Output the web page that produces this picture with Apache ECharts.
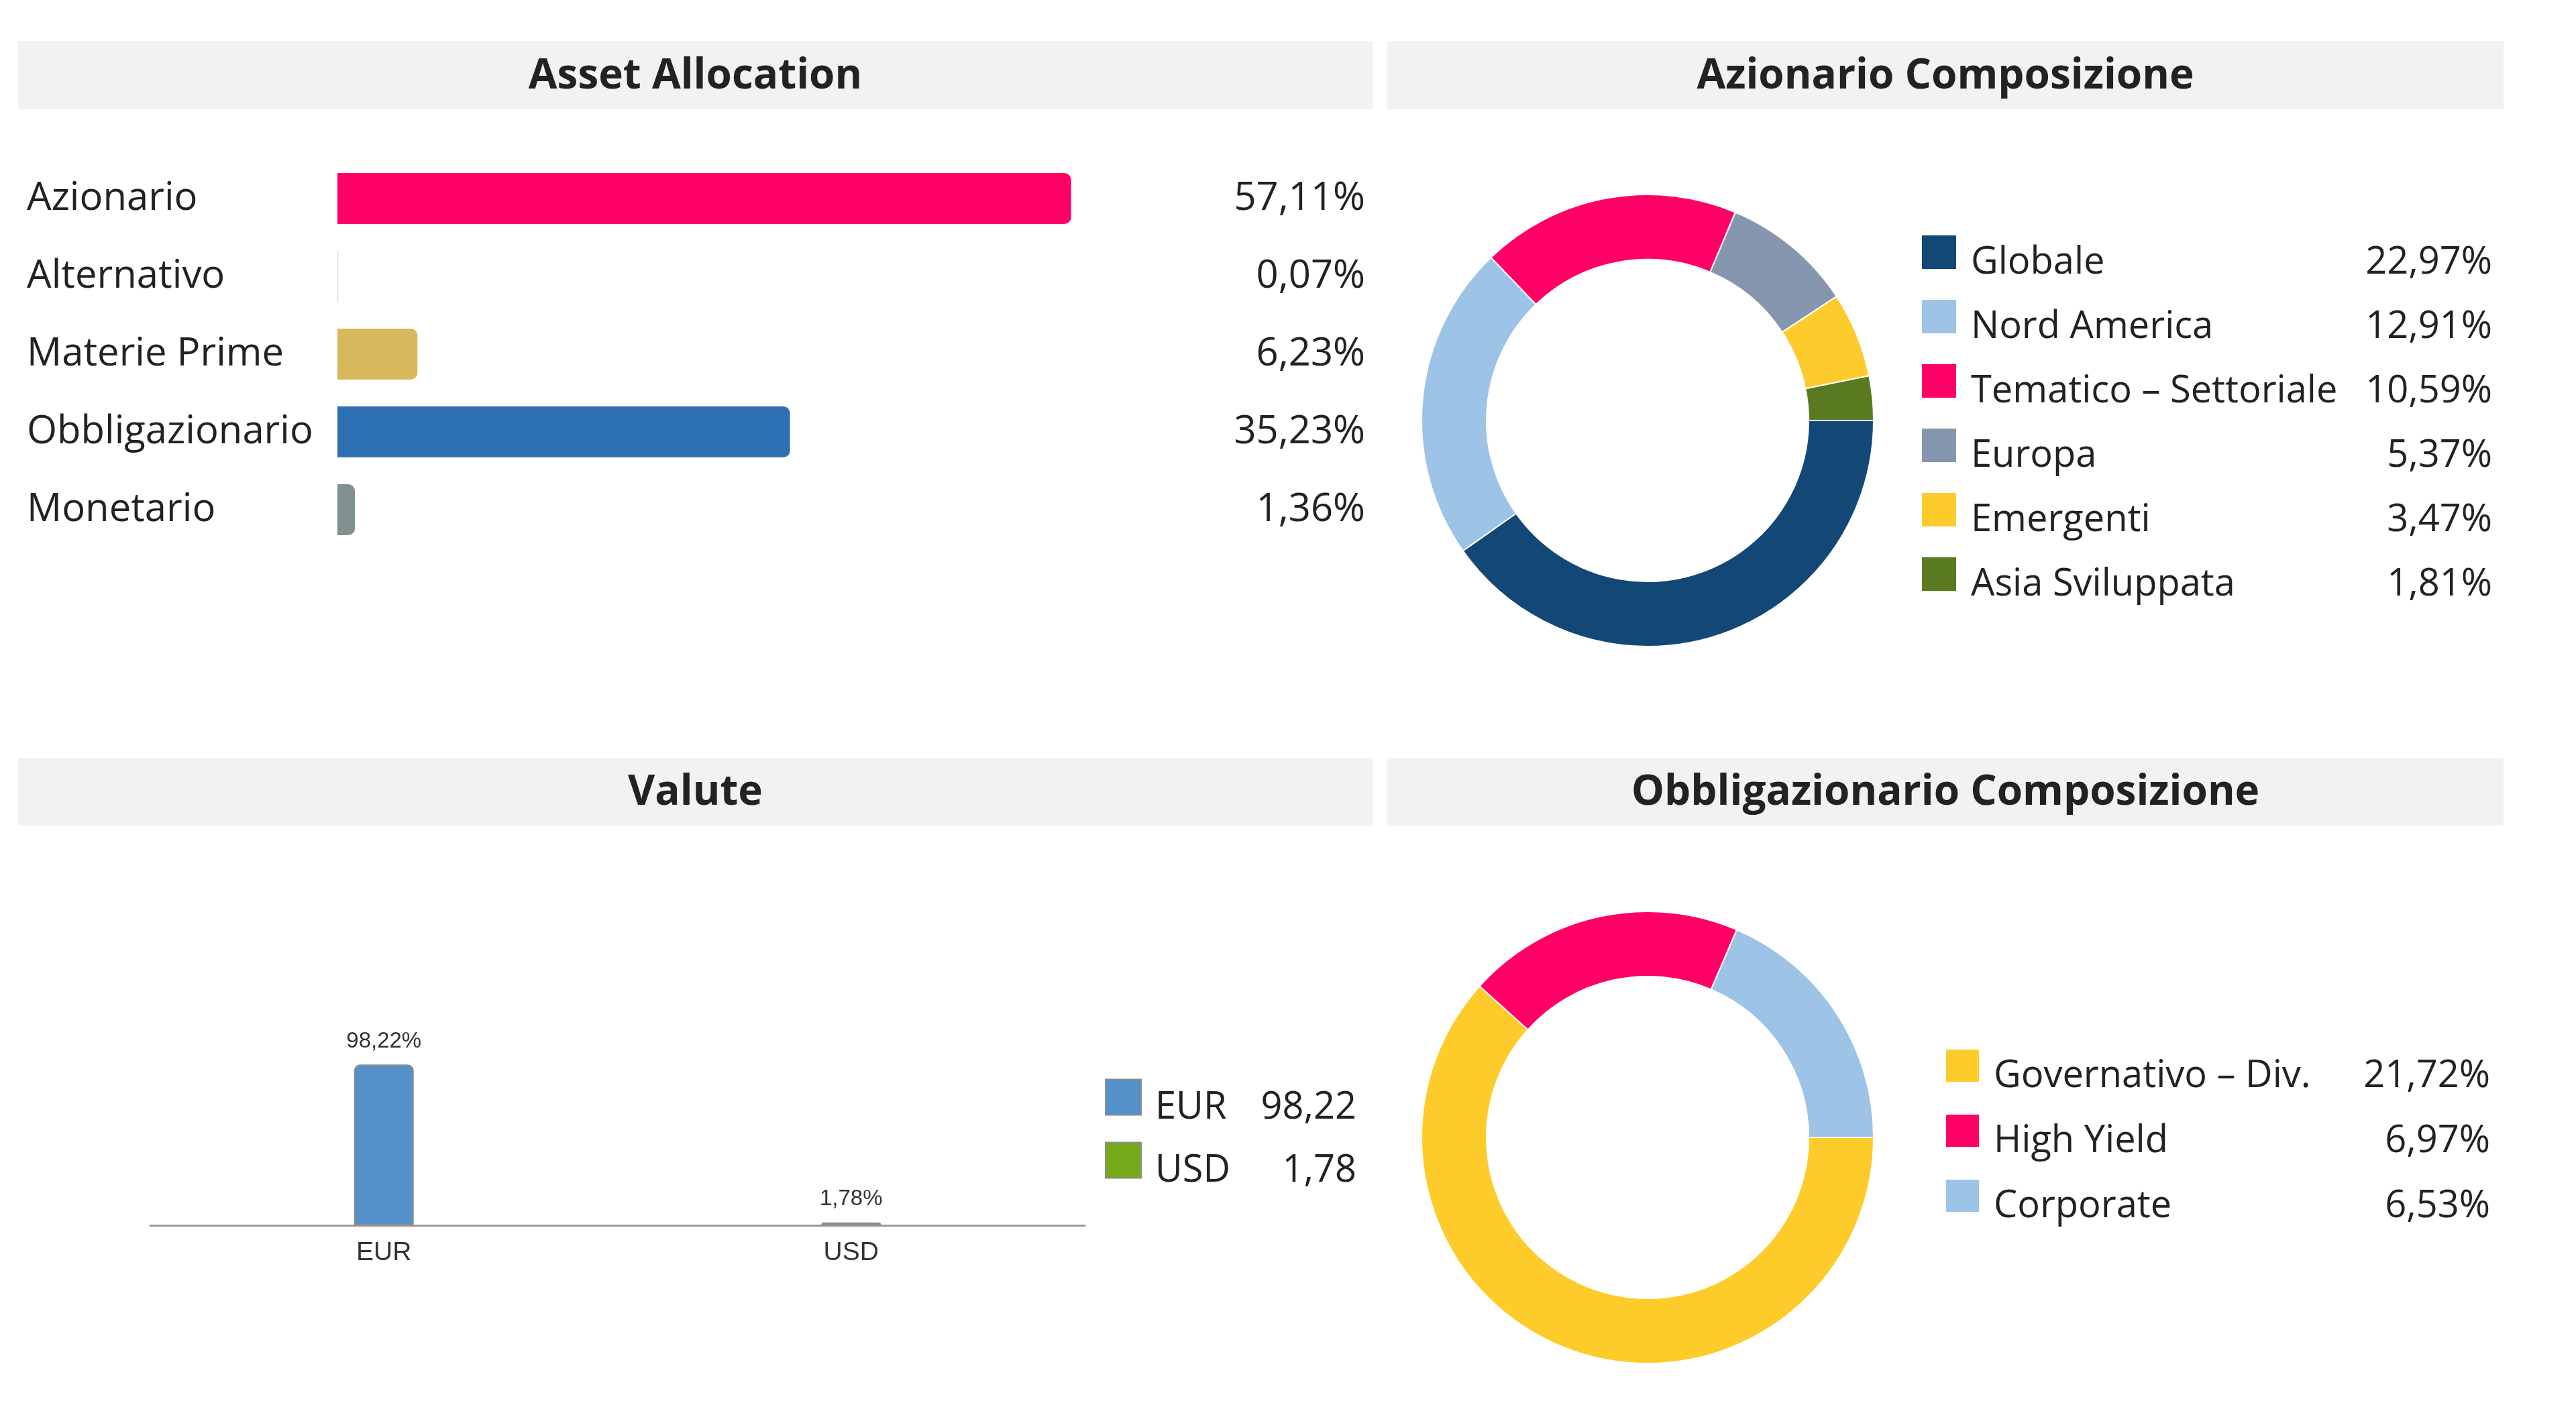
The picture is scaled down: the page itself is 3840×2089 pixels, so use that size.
<!DOCTYPE html>
<html>
<head>
<meta charset="utf-8">
<script src="https://cdn.jsdelivr.net/npm/echarts@6/dist/echarts.min.js"></script>
<style>
  html, body { margin: 0; padding: 0; background: #fff; }
  #chart { width: 3840px; height: 2089px; }
</style>
</head>
<body>
<div id="chart"></div>
<script>
// values
const assetCats = ['Azionario', 'Alternativo', 'Materie Prime', 'Obbligazionario', 'Monetario']
const assetValues = [57.11, 0.07, 6.23, 35.23, 1.36]

const valuteCats = ['EUR', 'USD']
const valuteValues = [98.22, 1.78]

const azNames = ['Globale', 'Nord America', 'Tematico – Settoriale', 'Europa', 'Emergenti', 'Asia Sviluppata']
const azValues = [22.97, 12.91, 10.59, 5.37, 3.47, 1.81]

const obNames = ['Governativo – Div.', 'High Yield', 'Corporate']
const obValues = [21.72, 6.97, 6.53]

const titles = ['Asset Allocation', 'Azionario Composizione', 'Valute', 'Obbligazionario Composizione']

// colours
const assetColors = ['#FF0066', '#d8d8d8', '#D8B85C', '#2E71B3', '#7F9190']
const valuteColors = ['#5591C8', '#77AA1A']
const azColors = ['#134876', '#9DC3E6', '#FF0066', '#8796AF', '#FDCB2B', '#5A7A21']
const obColors = ['#FDCC2A', '#FF0066', '#9DC3E6']

const FONT = '"Open Sans", "Noto Sans", sans-serif'
const SMALL = '"Liberation Sans", Arial, sans-serif'
const TXT = '#222'

const fmt = v => v.toFixed(2).replace('.', ',')

let lookup = {}
azNames.forEach((n, i) => lookup[n] = fmt(azValues[i]) + '%')
obNames.forEach((n, i) => lookup[n] = fmt(obValues[i]) + '%')
valuteCats.forEach((n, i) => lookup[n] = fmt(valuteValues[i]))

function legendRich(nameWidth, valWidth) {
  return {
    n: { fontFamily: FONT, fontSize: 56, color: TXT, width: nameWidth, lineHeight: 52, padding: [32, 0, 0, 16] },
    v: { fontFamily: FONT, fontSize: 56, color: TXT, width: valWidth, align: 'right', lineHeight: 52, padding: [32, 0, 0, 0] }
  }
}

function header(x, y, w, h, text) {
  return [
    { type: 'rect', shape: { x: x, y: y, width: w, height: h }, style: { fill: '#F2F2F2' }, z: -10 },
    { type: 'text', x: x + w / 2, y: y + h / 2 + 2,
      style: { text: text, fontFamily: FONT, fontWeight: 'bold', fontSize: 62, fill: TXT, align: 'center', verticalAlign: 'middle' } }
  ]
}

const chart = echarts.init(document.getElementById('chart'))

let valuteSeries = valuteCats.map((c, i) => ({
  type: 'bar',
  name: c,
  xAxisIndex: 1,
  yAxisIndex: 2,
  barWidth: 89,
  barGap: '-100%',
  data: valuteCats.map((_, j) => j === i ? valuteValues[i] : '-'),
  itemStyle: { color: valuteColors[i], borderColor: '#8c8c8c', borderWidth: 2, borderRadius: [8, 8, 0, 0] },
  label: {
    show: true, position: 'top', distance: 18,
    fontFamily: SMALL, fontSize: 33, color: '#333',
    formatter: p => fmt(p.value) + '%'
  }
}))

const option = {
  animation: false,
  backgroundColor: '#fff',
  graphic: [].concat(
    header(27, 61, 2019, 102, titles[0]),
    header(2068, 61, 1664, 102, titles[1]),
    header(27, 1130, 2019, 101, titles[2]),
    header(2068, 1130, 1664, 101, titles[3])
  ),
  grid: [
    { left: 503, top: 238, width: 1532, height: 580 },
    { left: 224, top: 1583, width: 1393, height: 244 }
  ],
  xAxis: [
    { gridIndex: 0, type: 'value', min: 0, max: 80, show: false },
    {
      gridIndex: 1, type: 'category', data: valuteCats,
      axisLine: { lineStyle: { color: '#999', width: 3 } },
      axisTick: { alignWithLabel: true, length: 17, lineStyle: { color: '#999', width: 2 } },
      axisLabel: { margin: 22, fontFamily: SMALL, fontSize: 39, color: '#333' }
    }
  ],
  yAxis: [
    {
      gridIndex: 0, type: 'category', inverse: true, data: assetCats,
      axisLine: { show: false }, axisTick: { show: false },
      axisLabel: { align: 'left', margin: 463, fontFamily: FONT, fontSize: 58, color: TXT }
    },
    {
      gridIndex: 0, type: 'category', inverse: true, position: 'right',
      data: assetValues.map(v => fmt(v) + '%'),
      axisLine: { show: false }, axisTick: { show: false },
      axisLabel: { align: 'right', margin: 0, fontFamily: FONT, fontSize: 58, color: TXT }
    },
    { gridIndex: 1, type: 'value', min: 0, max: 100, show: false }
  ],
  legend: [
    {
      data: azNames, orient: 'vertical', left: 2863, top: 332, padding: 0,
      itemWidth: 53, itemHeight: 52, itemGap: 8, icon: 'rect', selectedMode: false,
      formatter: n => '{n|' + n + '}{v|' + lookup[n] + '}',
      textStyle: { rich: legendRich(567, 210) }
    },
    {
      data: obNames, orient: 'vertical', left: 2899, top: 1545, padding: 0,
      itemWidth: 51, itemHeight: 50, itemGap: 9, icon: 'rect', selectedMode: false,
      formatter: n => '{n|' + n + '}{v|' + lookup[n] + '}',
      textStyle: { rich: legendRich(530, 210) }
    },
    {
      data: valuteCats, orient: 'vertical', left: 1647, top: 1592, padding: 0,
      itemWidth: 53, itemHeight: 53, itemGap: 6, icon: 'rect', selectedMode: false,
      formatter: n => '{n|' + n + '}{v|' + lookup[n] + '}',
      textStyle: { rich: legendRich(110, 190) }
    }
  ],
  series: [
    {
      type: 'bar',
      name: 'Asset Allocation',
      xAxisIndex: 0,
      yAxisIndex: 0,
      barWidth: 76,
      data: assetValues.map((v, i) => ({ value: v, itemStyle: { color: assetColors[i] } })),
      itemStyle: { borderRadius: [0, 10, 10, 0] }
    },
    ...valuteSeries,
    {
      type: 'pie',
      name: 'Azionario Composizione',
      center: [2456, 627],
      radius: [240, 337],
      startAngle: 0,
      label: { show: false },
      labelLine: { show: false },
      itemStyle: { borderColor: '#fff', borderWidth: 2 },
      data: azNames.map((n, i) => ({ name: n, value: azValues[i], itemStyle: { color: azColors[i] } }))
    },
    {
      type: 'pie',
      name: 'Obbligazionario Composizione',
      center: [2456, 1696],
      radius: [240, 337],
      startAngle: 0,
      label: { show: false },
      labelLine: { show: false },
      itemStyle: { borderColor: '#fff', borderWidth: 2 },
      data: obNames.map((n, i) => ({ name: n, value: obValues[i], itemStyle: { color: obColors[i] } }))
    }
  ]
}

chart.setOption(option)
</script>
</body>
</html>
